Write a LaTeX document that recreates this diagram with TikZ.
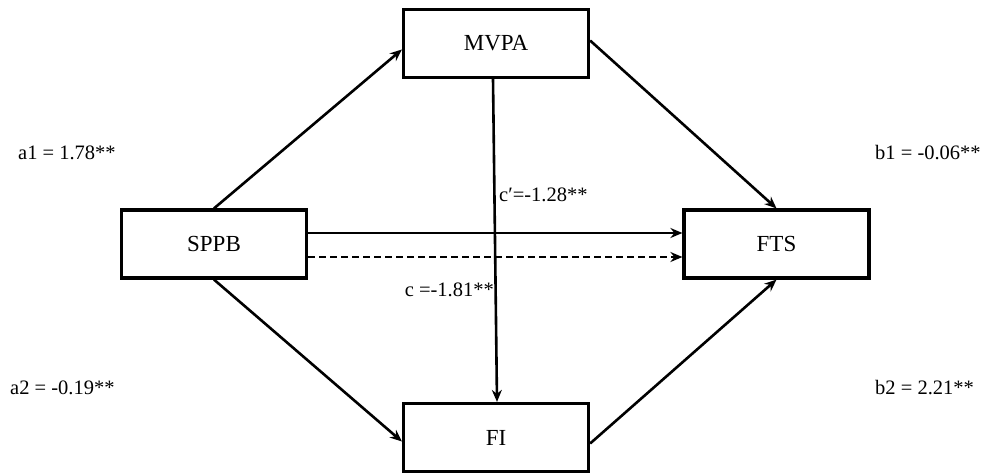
\documentclass[tikz,border=0pt]{standalone}
\usepackage{fontspec}
\setmainfont{Liberation Serif}
\usetikzlibrary{arrows.meta}
\begin{document}
\begin{tikzpicture}[x=1pt,y=-1pt,
  box/.style={draw,line width=3.2pt,minimum width=185pt,minimum height=68pt,inner sep=0pt,font=\fontsize{23}{27}\selectfont},
  lbl/.style={inner sep=0pt,font=\fontsize{20.5}{24}\selectfont},
  conn/.style={line width=2.6pt,-{Stealth[length=12pt,width=10pt]}}]
\useasboundingbox (0,0) rectangle (984,474);
\node[box] (mvpa) at (496,43.5) {MVPA};
\node[box] (sppb) at (214,244) {SPPB};
\node[box] (fts) at (776.5,244) {FTS};
\node[box] (fi) at (496,437.5) {FI};
\draw[conn] (sppb.north) -- ([yshift=-6pt]mvpa.west);
\draw[conn] ([yshift=3pt]mvpa.east) -- (fts.north);
\draw[conn] (sppb.south) -- ([yshift=-4pt]fi.west);
\draw[conn] ([yshift=-6pt]fi.east) -- (fts.south);
\draw[conn] ([yshift=11pt]sppb.east) -- ([yshift=11pt]fts.west);
\draw[conn,dash pattern=on 7pt off 4pt] ([yshift=-13pt]sppb.east) -- ([yshift=-13pt]fts.west);
\draw[conn] ([xshift=-3pt]mvpa.south) -- ([xshift=1pt]fi.north);
\node[lbl,anchor=west] (la1) at (18,153) {a1 = 1.78**};
\node[lbl,anchor=west] (lb1) at (875,153) {b1 = -0.06**};
\node[lbl,anchor=west] (la2) at (10,388) {a2 = -0.19**};
\node[lbl,anchor=west] (lb2) at (875,388) {b2 = 2.21**};
\node[lbl,anchor=west] (lcp) at (499,195) {c′=-1.28**};
\node[lbl,anchor=east] (lc) at (494,290) {c =-1.81**};
\end{tikzpicture}
\end{document}
